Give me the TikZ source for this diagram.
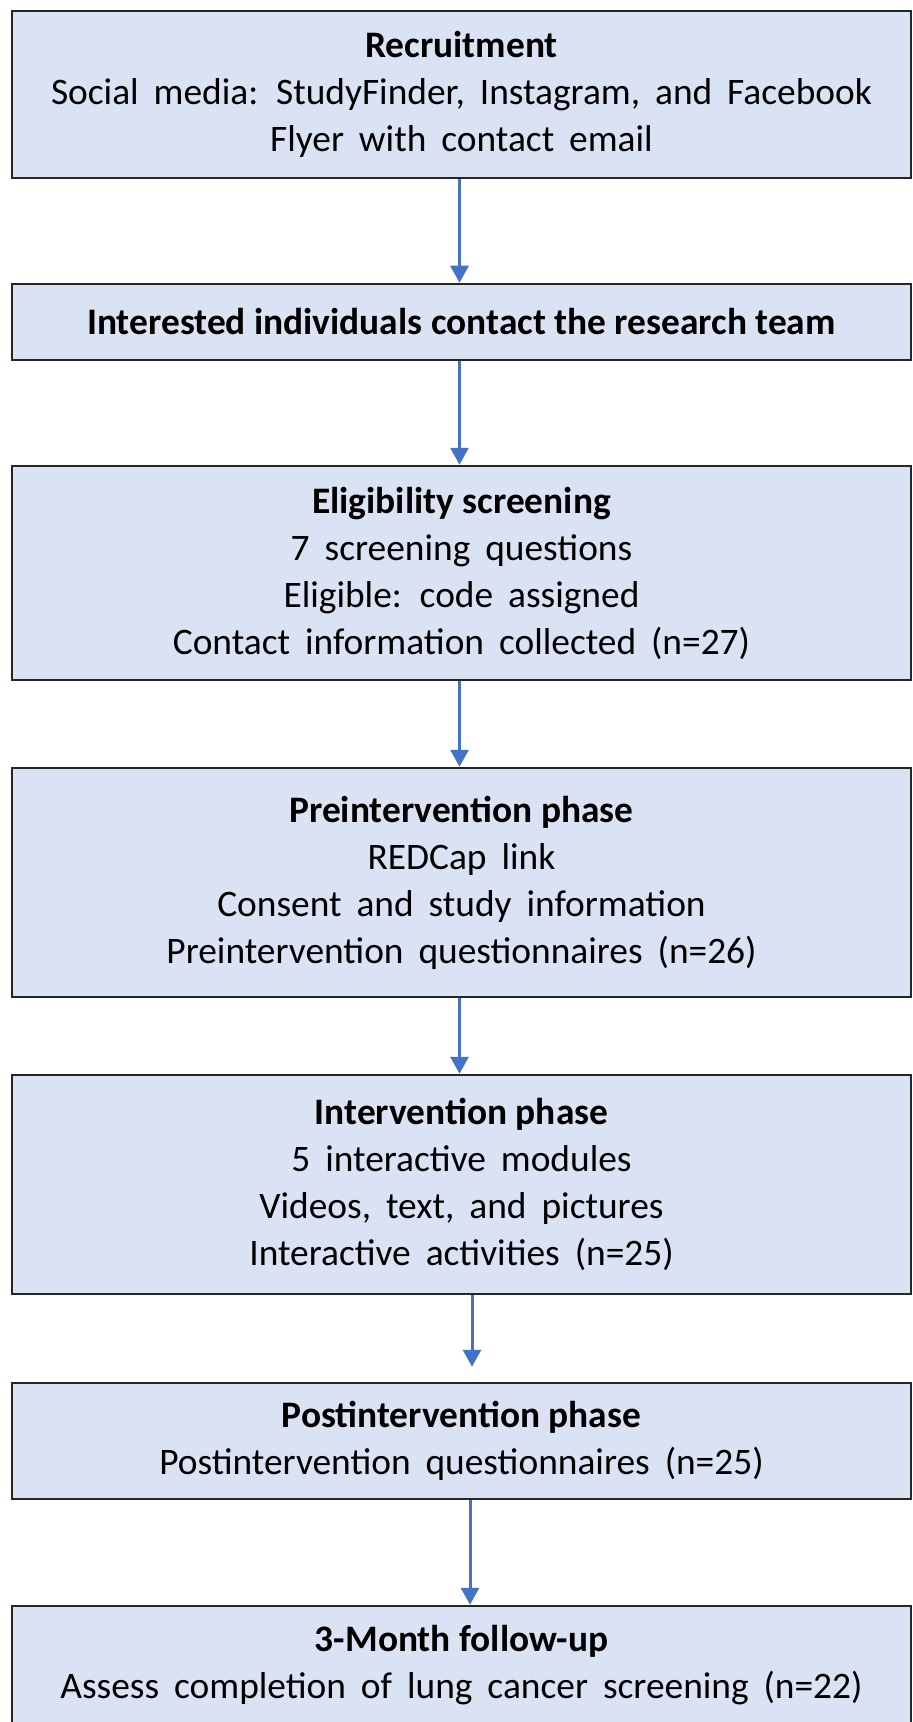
\documentclass[tikz,border=0pt]{standalone}
\usepackage{fontspec}
\setmainfont{Carlito}
\usetikzlibrary{arrows.meta,calc}
\definecolor{boxfill}{HTML}{DAE3F3}
\definecolor{arrowblue}{HTML}{4472C4}
\definecolor{boxline}{HTML}{262626}
\newcommand\hd[1]{{\bfseries\spaceskip=0pt\relax #1}}
\newcommand\boxfont{\fontsize{18.7}{23.5}\selectfont\spaceskip=0.4em\relax}
\begin{document}
\begin{tikzpicture}[x=0.5pt,y=-0.5pt,
  box/.style={draw=boxline, line width=1.25pt, fill=boxfill, minimum width=449.5pt,
    align=center, font=\boxfont, inner sep=0pt},
  arr/.style={draw=arrowblue, line width=1.5pt, -{Triangle[width=9pt,length=8.5pt]}}]
\useasboundingbox (0,0) rectangle (912,1722);
\fill[white] (0,0) rectangle (912,1722);
\node[box, minimum height=83.5pt] (b1) at (461.5,94.5)
  {\hd{Recruitment}\\Social media: StudyFinder, Instagram, and Facebook\\Flyer with contact email};
\node[box, minimum height=38pt] (b2) at (461.5,322)
  {\hd{Interested individuals contact the research team}};
\node[box, minimum height=107pt] (b3) at (461.5,573)
  {\hd{Eligibility screening}\\7 screening questions\\Eligible: code assigned\\Contact information collected (n=27)};
\node[box, minimum height=114.5pt] (b4) at (461.5,882.5)
  {\hd{Preintervention phase}\\REDCap link\\Consent and study information\\Preintervention questionnaires (n=26)};
\node[box, minimum height=109.5pt] (b5) at (461.5,1184.5)
  {\hd{Intervention phase}\\5 interactive modules\\Videos, text, and pictures\\Interactive activities (n=25)};
\node[box, minimum height=58pt] (b6) at (461.5,1441)
  {\hd{Postintervention phase}\\Postintervention questionnaires (n=25)};
\node[box, minimum height=59pt] (b7) at (461.5,1665)
  {\hd{3-Month follow-up}\\Assess completion of lung cancer screening (n=22)};
\draw[arr] ($(b1.south)+(-2,0)$) -- ($(b2.north)+(-2,0)$);
\draw[arr] ($(b2.south)+(-2,0)$) -- ($(b3.north)+(-2,0)$);
\draw[arr] ($(b3.south)+(-2,0)$) -- ($(b4.north)+(-2,0)$);
\draw[arr] ($(b4.south)+(-2,0)$) -- ($(b5.north)+(-2,0)$);
\draw[arr, shorten >=7.5pt] ($(b5.south)+(10.5,0)$) -- ($(b6.north)+(10.5,0)$);
\draw[arr] ($(b6.south)+(8.5,0)$) -- ($(b7.north)+(8.5,0)$);
\end{tikzpicture}
\end{document}
